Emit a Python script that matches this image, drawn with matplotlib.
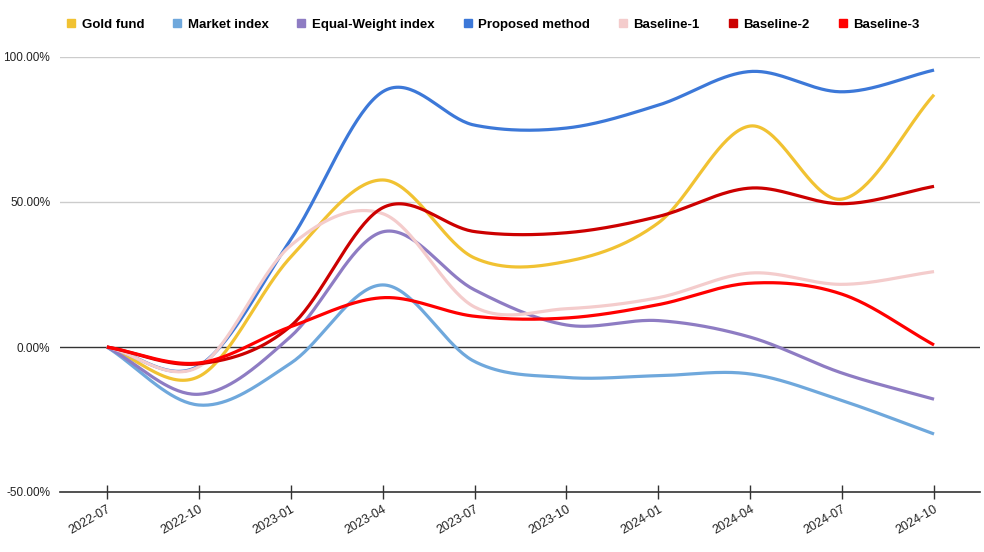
import matplotlib.pyplot as plt
import numpy as np
from matplotlib.lines import Line2D

plt.rcParams['font.family'] = ['Liberation Sans', 'DejaVu Sans']

dates = ["2022-07", "2022-10", "2023-01", "2023-04", "2023-07",
         "2023-10", "2024-01", "2024-04", "2024-07", "2024-10"]

gold_fund = [0, -10.2, 31, 57.6, 30.7, 29.5, 42.8, 76.2, 51, 87]
market_index = [0, -20, -5.6, 21.4, -5, -10.5, -9.9, -9.3, -18.5, -30]
equal_weight = [0, -16.3, 3.6, 39.7, 19.7, 7.6, 9.1, 3.4, -9, -18]
proposed = [0, -6.5, 37, 88, 76.5, 75.5, 83.4, 95, 88, 95.5]
baseline_1 = [0, -6.8, 35, 46, 13.8, 13.2, 17, 25.5, 21.6, 26]
baseline_2 = [0, -5.8, 7.2, 48, 39.8, 39.4, 45, 54.8, 49.4, 55.4]
baseline_3 = [0, -5.5, 7, 17, 10.6, 10, 14.6, 22, 18.2, 0.7]

series = [
    ("Gold fund", gold_fund, "#f1c232"),
    ("Market index", market_index, "#6fa8dc"),
    ("Equal-Weight index", equal_weight, "#8e7cc3"),
    ("Proposed method", proposed, "#3c78d8"),
    ("Baseline-1", baseline_1, "#f4cccc"),
    ("Baseline-2", baseline_2, "#cc0000"),
    ("Baseline-3", baseline_3, "#ff0000"),
]


def smooth(y, steps=40):
    # catmull-rom curve through the points, like the "smooth" line option
    y = np.asarray(y, dtype=float)
    n = len(y)
    m = np.zeros(n)
    m[1:-1] = (y[2:] - y[:-2]) / 2
    m[0] = y[1] - y[0]
    m[-1] = y[-1] - y[-2]
    xs, ys = [], []
    for i in range(n - 1):
        t = np.linspace(0, 1, steps, endpoint=False)
        h00 = 2 * t**3 - 3 * t**2 + 1
        h10 = t**3 - 2 * t**2 + t
        h01 = -2 * t**3 + 3 * t**2
        h11 = t**3 - t**2
        xs.append(i + t)
        ys.append(h00 * y[i] + h10 * m[i] + h01 * y[i + 1] + h11 * m[i + 1])
    xs.append([n - 1])
    ys.append([y[-1]])
    return np.concatenate(xs), np.concatenate(ys)


fig = plt.figure(figsize=(9.84, 5.52), dpi=100)
ax = fig.add_axes([60 / 984, 60 / 552, 920 / 984, 435 / 552])

for name, vals, color in series:
    sx, sy = smooth(vals)
    ax.plot(sx, sy, color=color, lw=2.3, solid_capstyle="butt", zorder=3)

ax.set_xlim(-0.51, 9.5)
ax.set_ylim(-50, 100)
ax.set_yticks([-50, 0, 50, 100])
ax.set_yticklabels([f"{v:.2f}%" for v in [-50, 0, 50, 100]])
ax.set_xticks(range(len(dates)))
ax.set_xticklabels(dates, rotation=30, ha="right", rotation_mode="anchor")

for v in [50, 100]:
    ax.axhline(v, color="#cccccc", lw=1, zorder=1)
ax.axhline(0, color="#333333", lw=1, zorder=2)

for s in ["top", "right", "left"]:
    ax.spines[s].set_visible(False)
ax.spines["bottom"].set_color("#333333")
ax.spines["bottom"].set_linewidth(1.2)
ax.tick_params(axis="y", length=0, labelsize=8.5, colors="#222222", pad=7)
ax.tick_params(axis="x", direction="inout", length=10, width=1,
               color="#333333", labelsize=9, labelcolor="#222222", pad=3)
for lbl in ax.get_xticklabels():
    lbl.set_x(lbl.get_position()[0])

handles = [Line2D([], [], color=c, marker="s", ls="", markersize=6)
           for _, _, c in series]
fig.legend(handles, [n for n, _, _ in series], loc="center",
           bbox_to_anchor=(0.5, 1 - 24.5 / 552), ncol=7, frameon=False,
           prop={"weight": "bold", "size": 9.5}, handletextpad=0.3,
           columnspacing=2.0, handlelength=1.0)

fig.savefig("out.png", dpi=100)
